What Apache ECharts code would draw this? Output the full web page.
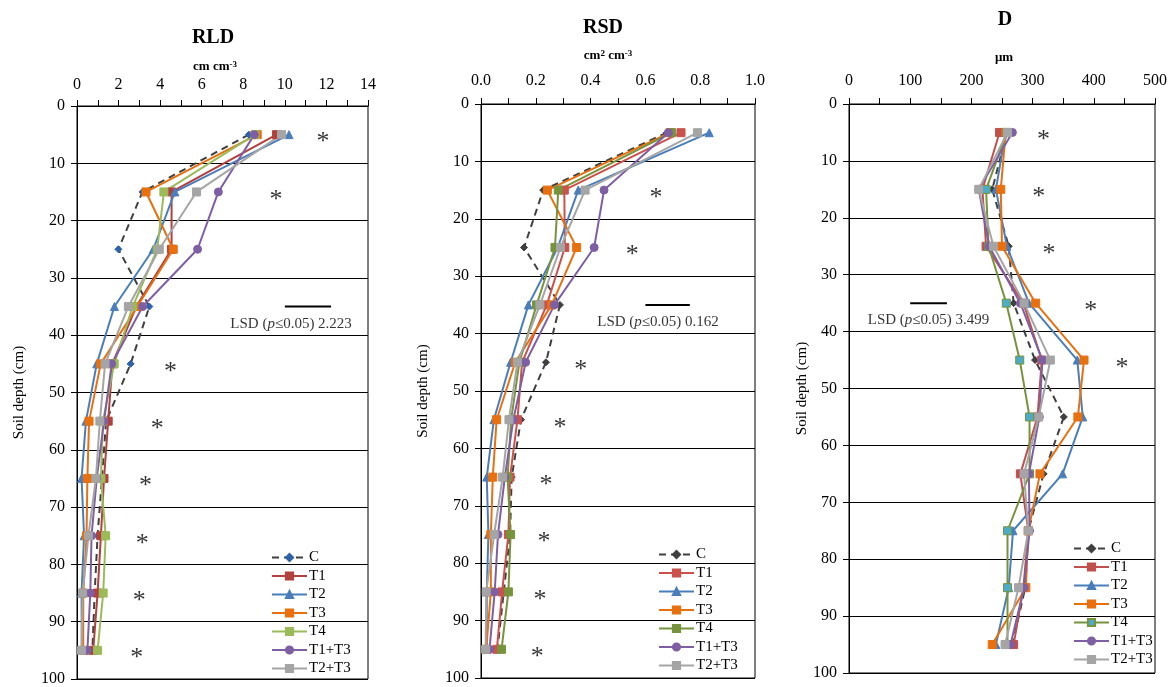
<!DOCTYPE html>
<html>
<head>
<meta charset="utf-8">
<title>RLD / RSD / D by soil depth</title>
<script src="https://cdn.jsdelivr.net/npm/echarts@6/dist/echarts.min.js"></script>
<style>
  html, body { margin: 0; padding: 0; background: #fff; }
  #chart { width: 1170px; height: 687px; }
</style>
</head>
<body>
<div id="chart"></div>
<script>
// depths (cm) of the sampled layers
const depths = [5, 15, 25, 35, 45, 55, 65, 75, 85, 95]
const seriesNames = ['C', 'T1', 'T2', 'T3', 'T4', 'T1+T3', 'T2+T3']

// root length density, cm cm-3 (order follows seriesNames)
const rldValues = [
  [8.27, 3.15, 1.99, 3.48, 2.58, 1.40, 1.20, 0.99, 0.85, 0.74],
  [9.60, 4.55, 4.55, 2.85, 1.70, 1.50, 1.30, 1.15, 0.99, 0.78],
  [10.20, 4.71, 3.67, 1.80, 0.95, 0.43, 0.22, 0.34, 0.22, 0.23],
  [8.67, 3.32, 4.63, 2.90, 1.14, 0.58, 0.50, 0.46, 0.30, 0.30],
  [8.56, 4.18, 3.86, 2.68, 1.79, 1.25, 1.15, 1.38, 1.26, 0.99],
  [8.53, 6.80, 5.80, 3.16, 1.67, 1.30, 0.95, 0.70, 0.64, 0.50],
  [9.84, 5.75, 3.96, 2.47, 1.35, 1.10, 0.91, 0.55, 0.27, 0.22]
]

// root surface density, cm2 cm-3
const rsdValues = [
  [0.678, 0.227, 0.157, 0.288, 0.237, 0.146, 0.112, 0.106, 0.083, 0.060],
  [0.730, 0.304, 0.306, 0.240, 0.150, 0.133, 0.106, 0.100, 0.077, 0.058],
  [0.833, 0.355, 0.280, 0.173, 0.108, 0.047, 0.021, 0.027, 0.021, 0.021],
  [0.690, 0.242, 0.349, 0.258, 0.125, 0.057, 0.043, 0.036, 0.036, 0.019],
  [0.696, 0.282, 0.270, 0.203, 0.140, 0.110, 0.097, 0.108, 0.100, 0.075],
  [0.684, 0.449, 0.413, 0.268, 0.163, 0.118, 0.087, 0.062, 0.050, 0.031],
  [0.790, 0.380, 0.290, 0.215, 0.133, 0.102, 0.079, 0.048, 0.019, 0.017]
]

// average root diameter, um
const dValues = [
  [258, 234, 261, 269, 304, 351, 318, 293, 288, 267],
  [246, 218, 224, 285, 315, 308, 280, 293, 285, 269],
  [256, 240, 258, 294, 373, 382, 349, 268, 261, 240],
  [256, 248, 250, 305, 384, 374, 312, 293, 289, 234],
  [258, 224, 228, 257, 279, 295, 295, 259, 259, 259],
  [267, 212, 229, 280, 316, 311, 294, 295, 286, 264],
  [259, 212, 236, 286, 329, 310, 286, 293, 277, 255]
]

// significance stars: [x value, depth]
const starsRLD = [[11.83, 5], [9.57, 15], [4.5, 45], [3.86, 55], [3.3, 65], [3.14, 75], [3.0, 85], [2.87, 95]]
const starsRSD = [[0.639, 15], [0.552, 25], [0.364, 45], [0.288, 55], [0.237, 65], [0.23, 75], [0.215, 85], [0.205, 95]]
const starsD = [[318, 5], [310, 15], [327, 25], [395, 35], [446, 45]]

// LSD bars: [start, end, depth], and label text
const lsdRLD = [10.0, 12.223, 35]
const lsdRSD = [0.600, 0.762, 35]
const lsdD = [100, 160, 35]
const lsdLabels = ['2.223', '0.162', '3.499']
const lsdLabelPos = [[10.3, 38], [0.646, 38], [130, 38]]

const FONT = '"Liberation Serif", "Times New Roman", serif'

// per-panel styling
const styles = [
  {
    C: { line: '#404040', mark: '#2F62A8' }, T1: { line: '#B2403C', mark: '#B2403C' },
    T2: { line: '#4A7EBB', mark: '#4A7EBB' }, T3: { line: '#E8700F', mark: '#E8700F' },
    T4: { line: '#9BBB59', mark: '#9BBB59' }, 'T1+T3': { line: '#7F5FA3', mark: '#7F5FA3' },
    'T2+T3': { line: '#A5A5A5', mark: '#A5A5A5' }
  },
  {
    C: { line: '#404040', mark: '#404040' }, T1: { line: '#CC504C', mark: '#CC504C' },
    T2: { line: '#4A7EBB', mark: '#4A7EBB' }, T3: { line: '#E8700F', mark: '#E8700F' },
    T4: { line: '#77933C', mark: '#77933C' }, 'T1+T3': { line: '#7F5FA3', mark: '#7F5FA3' },
    'T2+T3': { line: '#A5A5A5', mark: '#A5A5A5' }
  },
  {
    C: { line: '#404040', mark: '#404040' }, T1: { line: '#C0504D', mark: '#C0504D' },
    T2: { line: '#4A7EBB', mark: '#4A7EBB' }, T3: { line: '#E8700F', mark: '#E8700F' },
    T4: { line: '#77933C', mark: '#4BACC6' }, 'T1+T3': { line: '#7F5FA3', mark: '#7F5FA3' },
    'T2+T3': { line: '#A5A5A5', mark: '#A5A5A5' }
  }
]
const symbols = {
  C: ['diamond', 7], T1: ['rect', 8], T2: ['triangle', 8], T3: ['rect', 8],
  T4: ['rect', 8], 'T1+T3': ['circle', 8], 'T2+T3': ['rect', 8]
}

const panels = [
  { values: rldValues, stars: starsRLD, lsd: lsdRLD, max: 14, interval: 2, digits: 0 },
  { values: rsdValues, stars: starsRSD, lsd: lsdRSD, max: 1, interval: 0.2, digits: 1 },
  { values: dValues, stars: starsD, lsd: lsdD, max: 500, interval: 100, digits: 0 }
]

const grids = [
  { left: 77, top: 106, width: 291, height: 575 },
  { left: 481, top: 104, width: 274, height: 574 },
  { left: 849, top: 104, width: 308, height: 569 }
]
const nameGaps = [50, 50, 37]
const labelMargins = [13, 15, 15]
const legendPos = [[271, 550], [658, 547], [1073, 541]]

const markBorder = (pi, name) => (name === 'T4' && pi === 2 ? '#77933C' : styles[pi][name].mark)

const series = []
panels.forEach((p, pi) => {
  seriesNames.forEach((name, si) => {
    const st = styles[pi][name]
    series.push({
      name,
      type: 'line',
      xAxisIndex: pi,
      yAxisIndex: pi,
      data: p.values[si].map((v, k) => [v, depths[k]]),
      symbol: symbols[name][0],
      symbolSize: symbols[name][1],
      itemStyle: { color: st.mark, borderColor: markBorder(pi, name), borderWidth: 1 },
      lineStyle: { color: st.line, width: 2, type: name === 'C' ? [7, 5] : 'solid' },
      emphasis: { disabled: true },
      animation: false
    })
  })
  // stars
  series.push({
    type: 'scatter',
    xAxisIndex: pi,
    yAxisIndex: pi,
    data: p.stars,
    symbolSize: 1,
    itemStyle: { color: 'rgba(0,0,0,0)' },
    label: { show: true, position: 'inside', formatter: '*', color: '#000', fontSize: 26, fontFamily: FONT, offset: [0, 8] },
    silent: true,
    animation: false
  })
  // LSD bar
  series.push({
    type: 'line',
    xAxisIndex: pi,
    yAxisIndex: pi,
    data: [[p.lsd[0], p.lsd[2]], [p.lsd[1], p.lsd[2]]],
    symbol: 'none',
    lineStyle: { color: '#000', width: 2 },
    silent: true,
    animation: false
  })
  // LSD label
  series.push({
    type: 'scatter',
    xAxisIndex: pi,
    yAxisIndex: pi,
    data: [lsdLabelPos[pi]],
    symbolSize: 1,
    itemStyle: { color: 'rgba(0,0,0,0)' },
    label: {
      show: true,
      position: 'inside',
      formatter: '{n|LSD (}{i|p}{n|≤0.05) ' + lsdLabels[pi] + '}',
      rich: {
        n: { fontSize: 15, fontFamily: FONT, color: '#000' },
        i: { fontSize: 15, fontFamily: FONT, fontStyle: 'italic', color: '#000' }
      }
    },
    silent: true,
    animation: false
  })
})

const legendItems = (pi) => seriesNames.map(name => {
  const st = styles[pi][name]
  return {
    name,
    itemStyle: { color: st.mark, borderColor: markBorder(pi, name) },
    lineStyle: { color: st.line, width: 2, type: name === 'C' ? [7, 5] : 'solid' }
  }
})

const option = {
  animation: false,
  backgroundColor: '#fff',
  textStyle: { fontFamily: FONT },
  grid: grids.map(g => ({ ...g, show: true, borderColor: '#000', borderWidth: 1, backgroundColor: 'transparent' })),
  xAxis: panels.map((p, pi) => ({
    type: 'value',
    gridIndex: pi,
    position: 'top',
    min: 0,
    max: p.max,
    interval: p.interval,
    axisLine: { show: true, lineStyle: { color: '#000', width: 1 } },
    axisTick: { show: true, length: 6, lineStyle: { color: '#000' } },
    minorTick: { show: true, splitNumber: 2, length: 6, lineStyle: { color: '#000' } },
    splitLine: { show: false },
    axisLabel: {
      color: '#000', fontSize: 16, fontFamily: FONT, margin: labelMargins[pi],
      formatter: v => v.toFixed(p.digits)
    }
  })),
  yAxis: panels.map((p, pi) => ({
    type: 'value',
    gridIndex: pi,
    inverse: true,
    min: 0,
    max: 100,
    interval: 10,
    name: 'Soil depth (cm)',
    nameLocation: 'middle',
    nameGap: nameGaps[pi],
    nameTextStyle: { color: '#000', fontSize: 15, fontFamily: FONT },
    axisLine: { show: true, lineStyle: { color: '#000', width: 1 } },
    axisTick: { show: true, length: 6, lineStyle: { color: '#000' } },
    splitLine: { show: true, lineStyle: { color: '#000', width: 1 } },
    axisLabel: { color: '#000', fontSize: 16, fontFamily: FONT, margin: 12 }
  })),
  legend: panels.map((p, pi) => ({
    orient: 'vertical',
    left: legendPos[pi][0],
    top: legendPos[pi][1],
    height: 300,
    padding: 0,
    itemWidth: 35,
    itemHeight: 9,
    itemGap: 3.5,
    selectedMode: false,
    textStyle: { color: '#000', fontSize: 15, lineHeight: 15, fontFamily: FONT, padding: [0, 0, 0, -3] },
    data: legendItems(pi)
  })),
  graphic: [
    { type: 'text', x: 213, y: 38, style: { text: 'RLD', font: 'bold 20px ' + FONT, fill: '#000', textAlign: 'center', textVerticalAlign: 'middle' } },
    { type: 'text', x: 603, y: 28, style: { text: 'RSD', font: 'bold 20px ' + FONT, fill: '#000', textAlign: 'center', textVerticalAlign: 'middle' } },
    { type: 'text', x: 1005, y: 20, style: { text: 'D', font: 'bold 20px ' + FONT, fill: '#000', textAlign: 'center', textVerticalAlign: 'middle' } },
    {
      type: 'text', x: 215, y: 67,
      style: {
        text: '{a|cm cm}{s|-3}', textAlign: 'center', textVerticalAlign: 'middle',
        rich: {
          a: { font: 'bold 13px ' + FONT, fill: '#000' },
          s: { font: 'bold 9px ' + FONT, fill: '#000', verticalAlign: 'top' }
        }
      }
    },
    {
      type: 'text', x: 608, y: 56,
      style: {
        text: '{a|cm}{s|2}{a| cm}{s|-3}', textAlign: 'center', textVerticalAlign: 'middle',
        rich: {
          a: { font: 'bold 13px ' + FONT, fill: '#000' },
          s: { font: 'bold 9px ' + FONT, fill: '#000', verticalAlign: 'top' }
        }
      }
    },
    { type: 'text', x: 1004, y: 58, style: { text: 'μm', font: 'bold 13px ' + FONT, fill: '#000', textAlign: 'center', textVerticalAlign: 'middle' } }
  ],
  series
}

const chart = echarts.init(document.getElementById('chart'), null, { renderer: 'canvas' })
chart.setOption(option)
window.addEventListener('resize', () => chart.resize())
</script>
</body>
</html>
